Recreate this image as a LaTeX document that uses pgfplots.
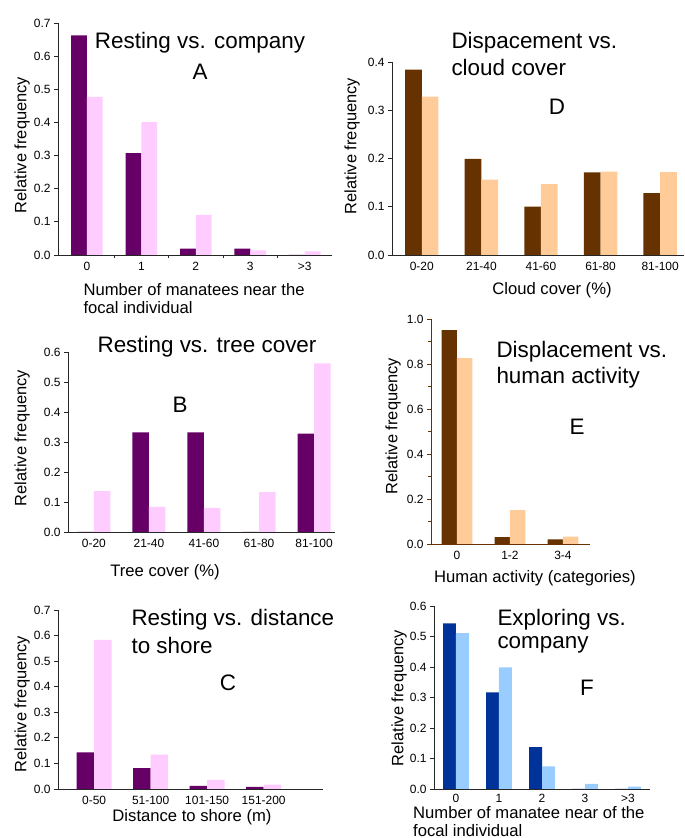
\documentclass[border=0pt]{standalone}
\usepackage{pgfplots}
\pgfplotsset{compat=1.18}
\usepackage{fontspec}
\setmainfont{Liberation Sans}

\definecolor{purp}{HTML}{660066}
\definecolor{pinkl}{HTML}{FFCCFF}
\definecolor{brownd}{HTML}{663300}
\definecolor{peach}{HTML}{FFCC99}
\definecolor{navy}{HTML}{003399}
\definecolor{skyl}{HTML}{99CCFF}

\pgfplotsset{
  panel/.style={
    scale only axis, anchor=south west,
    axis lines*=left, ymin=0,
    ybar=0pt, bar width=0.29,
    tick align=outside, major tick length=4bp, minor tick length=3bp,
    xtick={0,...,4}, major x tick style={draw=none},
    axis line style={line width=0.9pt, black!85},
    every tick/.style={line width=0.8pt, black!85},
    tick label style={font=\fontsize{12}{14}\selectfont},
    /pgf/number format/assume math mode=true,
    yticklabel style={/pgf/number format/fixed, /pgf/number format/fixed zerofill, /pgf/number format/precision=1},
    every axis plot/.append style={draw=none},
  },
}
\newcommand{\ttl}{\fontsize{22.5}{26}\selectfont}
\newcommand{\lbl}{\fontsize{16.7}{20}\selectfont}

\begin{document}
\begin{tikzpicture}
\useasboundingbox (0,0) rectangle (685bp,838bp);

% ---- A: resting vs company
\begin{axis}[panel, at={(58bp,583bp)}, width=274bp, height=232bp,
    xmin=-0.53, xmax=4.5, ymax=0.7, ytick={0,0.1,...,0.7},
    xticklabels={0,1,2,3,>3}, minor xtick={0.5,1.5,2.5,3.5}]
  \addplot[fill=purp] coordinates {(0,0.663) (1,0.307) (2,0.019) (3,0.019) (4,0)};
  \addplot[fill=pinkl] coordinates {(0,0.477) (1,0.401) (2,0.121) (3,0.014) (4,0.011)};
\end{axis}

% ---- D: displacement vs cloud cover
\begin{axis}[panel, at={(392bp,583bp)}, width=292bp, height=193bp,
    xmin=-0.5, xmax=4.4, ymax=0.4, ytick={0,0.1,...,0.4}, bar width=0.28,
    xticklabels={0-20,21-40,41-60,61-80,81-100}]
  \addplot[fill=brownd] coordinates {(0,0.384) (1,0.199) (2,0.100) (3,0.171) (4,0.128)};
  \addplot[fill=peach] coordinates {(0,0.328) (1,0.156) (2,0.147) (3,0.173) (4,0.172)};
\end{axis}

% ---- B: resting vs tree cover
\begin{axis}[panel, at={(68bp,306bp)}, width=267bp, height=180bp,
    xmin=-0.47, xmax=4.38, ymax=0.6, ytick={0,0.1,...,0.6}, bar width=0.3,
    xticklabels={0-20,21-40,41-60,61-80,81-100}]
  \addplot[fill=purp] coordinates {(0,0) (1,0.332) (2,0.332) (3,0) (4,0.328)};
  \addplot[fill=pinkl] coordinates {(0,0.136) (1,0.084) (2,0.080) (3,0.133) (4,0.562)};
\end{axis}

% ---- E: displacement vs human activity
\begin{axis}[panel, at={(431bp,294bp)}, width=159bp, height=225bp,
    xmin=-0.49, xmax=2.51, ymax=1.0, ytick={0,0.2,...,1.0}, minor ytick={0.1,0.3,0.5,0.7,0.9},
    xtick={0,1,2}, xticklabels={0,1-2,3-4},
    axis line style={line width=0.9pt, brownd}, every tick/.style={line width=0.8pt, brownd}]
  \addplot[fill=brownd] coordinates {(0,0.950) (1,0.030) (2,0.021)};
  \addplot[fill=peach] coordinates {(0,0.826) (1,0.151) (2,0.033)};
\end{axis}

% ---- C: resting vs distance to shore
\begin{axis}[panel, at={(58bp,49bp)}, width=265bp, height=179bp,
    xmin=-0.64, xmax=4.05, ymax=0.7, ytick={0,0.1,...,0.7}, bar width=0.31,
    xtick={0,1,2,3}, xticklabels={0-50,51-100,101-150,151-200}]
  \addplot[fill=purp] coordinates {(0,0.143) (1,0.082) (2,0.012) (3,0.008)};
  \addplot[fill=pinkl] coordinates {(0,0.583) (1,0.134) (2,0.036) (3,0.017)};
\end{axis}

% ---- F: exploring vs company
\begin{axis}[panel, at={(434bp,49bp)}, width=216bp, height=183bp,
    xmin=-0.51, xmax=4.51, ymax=0.6, ytick={0,0.1,...,0.6}, bar width=0.3,
    xticklabels={0,1,2,3,>3}, xticklabel style={inner sep=1bp}]
  \addplot[fill=navy] coordinates {(0,0.543) (1,0.317) (2,0.137) (3,0) (4,0)};
  \addplot[fill=skyl] coordinates {(0,0.511) (1,0.399) (2,0.074) (3,0.017) (4,0.008)};
\end{axis}

% ---- y labels
\foreach \x/\y in {22/145, 352/146, 22/438, 393/426, 22/704, 399/698}
  \node[rotate=90, font=\fontsize{16.5}{20}\selectfont] at (\x bp, 838bp-\y bp) {Relative frequency};

% ---- titles and panel letters
\node[font=\ttl] at (200bp, 795bp) {Resting vs. company};
\node[font=\ttl] at (200bp, 766bp) {A};
\node[font=\ttl, anchor=west] at (448bp, 795bp) {Dispacement vs.};
\node[font=\ttl, anchor=west] at (448bp, 771bp) {cloud cover};
\node[font=\ttl] at (557bp, 731bp) {D};
\node[font=\ttl] at (207bp, 491bp) {Resting vs. tree cover};
\node[font=\ttl] at (180bp, 433bp) {B};
\node[font=\ttl, anchor=west] at (493bp, 486bp) {Displacement vs.};
\node[font=\ttl, anchor=west] at (493bp, 460bp) {human activity};
\node[font=\ttl] at (577bp, 411bp) {E};
\node[font=\ttl, anchor=west] at (128bp, 218bp) {Resting vs. distance};
\node[font=\ttl, anchor=west] at (128bp, 193bp) {to shore};
\node[font=\ttl] at (228bp, 155bp) {C};
\node[font=\ttl, anchor=west] at (494bp, 218bp) {Exploring vs.};
\node[font=\ttl, anchor=west] at (494bp, 193bp) {company};
\node[font=\ttl] at (587bp, 150bp) {F};

% ---- x labels
\node[font=\lbl, anchor=west] at (80bp, 548bp) {Number of manatees near the};
\node[font=\lbl, anchor=west] at (80bp, 530bp) {focal individual};
\node[font=\lbl] at (552bp, 548bp) {Cloud cover (\%)};
\node[font=\lbl] at (165bp, 266bp) {Tree cover (\%)};
\node[font=\lbl] at (535bp, 260bp) {Human activity (categories)};
\node[font=\lbl] at (192bp, 21bp) {Distance to shore (m)};
\node[font=\lbl, anchor=west, inner sep=0pt] at (413bp, 25bp) {Number of manatee near of the};
\node[font=\lbl, anchor=base west, inner sep=0pt] at (413bp, 2bp) {focal individual};
\end{tikzpicture}
\end{document}
